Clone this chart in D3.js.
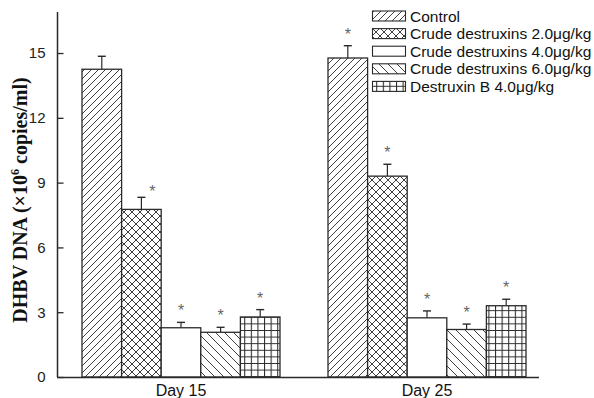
<!DOCTYPE html>
<html><head><meta charset="utf-8">
<script src="https://cdn.jsdelivr.net/npm/d3@7"></script>
<style>body{margin:0;background:#fff}svg{display:block}</style>
</head><body>
<script>
const days = ["Day 15", "Day 25"];
const series = ["Control", "Crude destruxins 2.0μg/kg", "Crude destruxins 4.0μg/kg", "Crude destruxins 6.0μg/kg", "Destruxin B 4.0μg/kg"];
const day15 = [14.25, 7.76, 2.28, 2.07, 2.78];
const day15Err = [0.6, 0.56, 0.25, 0.23, 0.34];
const day25 = [14.77, 9.3, 2.74, 2.2, 3.3];
const day25Err = [0.57, 0.55, 0.32, 0.25, 0.3];
const sig15 = [false, true, true, true, true];
const sig25 = [true, true, true, true, true];
const yTicks = [0, 3, 6, 9, 12, 15];
const patternIds = ["p-fwd", "p-cross", "p-none", "p-back", "p-grid"];

const W = 594, H = 398;
const svg = d3.select("body").append("svg").attr("width", W).attr("height", H);
const defs = svg.append("defs");
const ink = "#2a2a2a";

function pat(id, size, draw) {
  const p = defs.append("pattern").attr("id", id).attr("patternUnits", "userSpaceOnUse")
    .attr("width", size).attr("height", size);
  p.append("rect").attr("width", size).attr("height", size).attr("fill", "#fff");
  draw(p, size);
}
pat("p-fwd", 7, (p, s) => {
  p.append("path").attr("d", `M0,${s} L${s},0 M${-s/2},${s/2} L${s/2},${-s/2} M${s/2},${s*1.5} L${s*1.5},${s/2}`)
    .attr("stroke", ink).attr("stroke-width", 0.9);
});
pat("p-back", 9, (p, s) => {
  p.append("path").attr("d", `M0,0 L${s},${s} M${-s/2},${s/2} L${s/2},${s*1.5} M${s/2},${-s/2} L${s*1.5},${s/2}`)
    .attr("stroke", ink).attr("stroke-width", 0.9);
});
pat("p-cross", 8, (p, s) => {
  p.append("path").attr("d", `M0,0 L${s},${s} M0,${s} L${s},0`)
    .attr("stroke", ink).attr("stroke-width", 0.9);
});
pat("p-grid", 6.6, (p, s) => {
  p.append("path").attr("d", `M0,0.5 L${s},0.5 M0.5,0 L0.5,${s}`)
    .attr("stroke", ink).attr("stroke-width", 1.1);
});
pat("p-none", 10, () => {});

const x0 = d3.scaleBand().domain(days).range([82, 526]).paddingInner(48 / 246).paddingOuter(0);
const x1 = d3.scaleBand().domain(series).range([0, x0.bandwidth()]);
const y = d3.scaleLinear().domain([0, 16.9]).range([377, 12]);

const data = [];
days.forEach((d, gi) => {
  const vals = gi === 0 ? day15 : day25;
  const errs = gi === 0 ? day15Err : day25Err;
  const sig = gi === 0 ? sig15 : sig25;
  series.forEach((s, i) => data.push({ day: d, s, i, v: vals[i], e: errs[i], sig: sig[i] }));
});

const g = svg.append("g");
data.forEach(d => {
  const cx = x0(d.day) + x1(d.s) + x1.bandwidth() / 2;
  g.append("line").attr("x1", cx).attr("x2", cx).attr("y1", y(d.v)).attr("y2", y(d.v + d.e))
    .attr("stroke", ink).attr("stroke-width", 1.2);
  g.append("line").attr("x1", cx - 4).attr("x2", cx + 4).attr("y1", y(d.v + d.e)).attr("y2", y(d.v + d.e))
    .attr("stroke", ink).attr("stroke-width", 1.4);
  if (d.sig) {
    const off = (d.day === "Day 15" && d.i === 1) ? 11 : 0;
    g.append("text").attr("x", cx + off).attr("y", y(d.v + d.e) - (off ? 0 : 6))
      .attr("text-anchor", "middle").attr("font-family", "Liberation Sans, Arial, sans-serif")
      .attr("font-size", 16).attr("fill", "#666").text("*");
  }
});
g.selectAll("rect.bar").data(data).join("rect").attr("class", "bar")
  .attr("x", d => x0(d.day) + x1(d.s)).attr("y", d => y(d.v))
  .attr("width", x1.bandwidth()).attr("height", d => y(0) - y(d.v))
  .attr("fill", d => `url(#${patternIds[d.i]})`).attr("stroke", ink).attr("stroke-width", 1.3);

const yAxis = d3.axisLeft(y).tickValues(yTicks).tickSizeInner(-6).tickSizeOuter(0).tickPadding(12);
const ya = svg.append("g").attr("transform", "translate(57.5,0)").call(yAxis);
ya.select(".domain").attr("stroke", ink).attr("stroke-width", 1.5).attr("d", `M0,${y.range()[1]}V${y(0)}`);
ya.selectAll(".tick line").attr("stroke", ink).attr("stroke-width", 1.3);
ya.selectAll(".tick text").attr("font-family", "Liberation Sans, Arial, sans-serif").attr("font-size", 15).attr("fill", "#222");

svg.append("line").attr("x1", 57).attr("x2", 539).attr("y1", y(0) + 0.5).attr("y2", y(0) + 0.5)
  .attr("stroke", ink).attr("stroke-width", 1.6);

svg.selectAll("text.day").data(days).join("text").attr("class", "day")
  .attr("x", d => x0(d) + x0.bandwidth() / 2).attr("y", 396)
  .attr("text-anchor", "middle").attr("font-family", "Liberation Sans, Arial, sans-serif")
  .attr("font-size", 16).attr("fill", "#111").text(d => d);

const yl = svg.append("text").attr("transform", "translate(27,200) rotate(-90)")
  .attr("text-anchor", "middle").attr("font-family", "Liberation Serif, Times New Roman, serif")
  .attr("font-weight", "bold").attr("font-size", 20).attr("fill", "#111");
yl.append("tspan").text("DHBV DNA (×10");
yl.append("tspan").attr("font-size", 12).attr("dy", -8).text("6");
yl.append("tspan").attr("dy", 8).text(" copies/ml)");

const lg = svg.append("g");
series.forEach((s, i) => {
  const yy = 11 + i * 17.6;
  lg.append("rect").attr("x", 372.5).attr("y", yy).attr("width", 33).attr("height", 10)
    .attr("fill", `url(#${patternIds[i]})`).attr("stroke", ink).attr("stroke-width", 1.1);
  lg.append("text").attr("x", 410).attr("y", yy + 10.5).attr("font-family", "Liberation Sans, Arial, sans-serif")
    .attr("font-size", 15.5).attr("fill", "#111").text(s);
});
</script>
</body></html>
